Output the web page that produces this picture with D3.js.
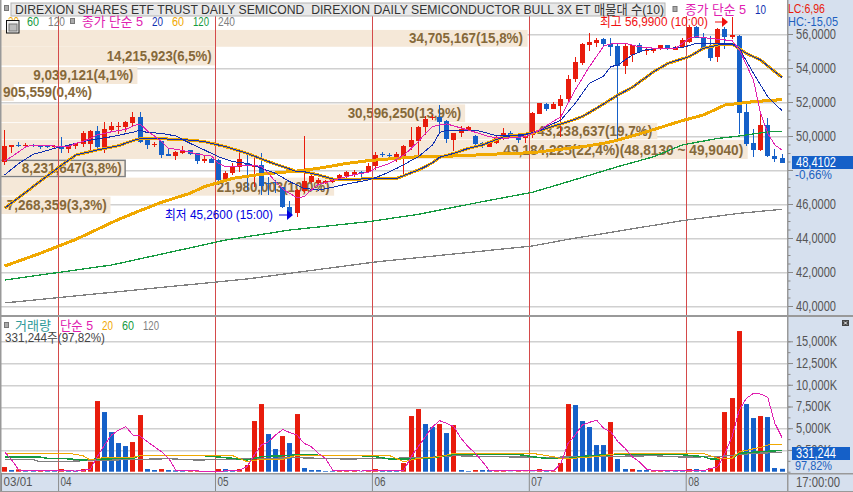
<!DOCTYPE html>
<html>
<head>
<meta charset="utf-8">
<title>Semiconductor Bull 3X</title>
<script src="https://cdn.jsdelivr.net/npm/d3@7"></script>
<style>
  html, body { margin: 0; padding: 0; background: #fff; overflow: hidden; }
  svg { display: block; font-family: "Liberation Sans", "Noto Sans CJK KR", sans-serif; }
  .line { fill: none; shape-rendering: crispEdges; }
</style>
</head>
<body>
<script>
// candles
const opens = [48.49,49.35,49.45,49.41,49.47,49.45,49.43,49.35,49.41,49.22,49.41,49.51,49.57,50.29,49.29,50.35,50.53,50.53,50.78,51.12,49.80,49.51,49.69,48.94,48.84,49.02,49.16,48.98,48.53,48.65,48.59,47.41,47.80,48.20,48.39,48.20,48.29,47.25,47.29,46.98,45.84,45.49,46.78,47.31,47.22,47.22,47.31,47.45,47.65,47.80,47.90,47.90,48.25,48.94,48.88,48.78,48.69,49.33,49.73,50.51,51.04,51.14,50.88,49.76,50.16,50.37,50.00,49.57,49.37,49.57,49.86,50.16,50.04,49.86,50.06,51.31,51.88,51.59,51.76,52.16,53.33,54.27,55.37,55.49,55.69,55.41,55.29,54.14,54.76,55.35,55.00,54.96,55.12,55.35,55.10,55.25,55.55,56.43,55.84,55.31,54.63,56.29,55.86,55.88,51.39,49.57,49.18,50.63,48.84,48.69];
const highs = [50.35,49.47,49.63,49.57,49.55,49.49,49.49,49.47,49.96,49.49,49.61,50.31,50.35,50.59,50.80,50.84,50.84,50.88,51.41,51.41,49.84,49.67,49.73,49.27,49.10,49.43,49.20,49.02,48.88,48.69,48.63,47.96,48.39,49.08,49.08,48.73,48.98,47.61,47.41,47.02,46.18,46.86,50.00,47.80,47.51,47.41,47.51,47.75,47.96,48.00,47.94,48.39,49.06,49.06,48.98,49.08,49.45,50.55,50.59,51.18,51.22,51.82,50.92,50.20,50.59,50.57,50.04,49.65,49.65,50.02,50.45,50.27,50.08,50.16,51.39,51.96,51.96,51.98,52.41,53.59,54.63,55.49,56.04,55.75,55.76,55.75,55.49,55.49,55.37,55.45,55.20,55.20,55.37,55.37,55.29,55.75,56.47,56.47,56.08,55.88,56.35,56.43,56.99,55.94,52.02,50.39,51.29,51.04,49.22,48.92];
const lows = [48.29,49.02,49.31,49.27,49.37,49.25,49.31,49.31,49.02,49.02,49.27,49.37,49.02,49.18,48.98,50.25,50.16,50.25,50.59,49.57,49.27,49.37,48.75,48.80,48.59,48.98,48.90,48.39,48.43,48.41,47.31,47.31,47.71,47.90,46.82,47.02,46.49,46.53,46.67,45.76,45.25,45.20,46.67,47.22,47.16,47.18,47.22,47.41,47.57,47.61,47.57,47.84,48.00,48.78,48.73,48.49,47.71,49.18,48.69,50.06,50.94,50.25,49.57,49.14,49.96,50.31,49.27,49.27,49.33,49.53,49.76,49.92,49.61,49.57,49.86,51.29,51.49,51.57,49.92,52.08,53.14,54.18,54.96,55.22,55.29,54.67,49.76,53.65,54.37,54.90,54.80,54.92,55.10,55.08,55.06,55.20,55.45,55.75,55.20,54.41,54.37,55.12,55.69,50.12,49.45,48.73,49.14,48.75,48.45,48.38];
const closes = [49.41,49.45,49.41,49.45,49.43,49.33,49.37,49.41,49.22,49.45,49.57,50.16,50.31,49.37,50.39,50.59,50.59,50.84,51.12,49.67,49.47,49.55,48.88,48.82,49.06,49.18,48.94,48.53,48.63,48.43,47.41,47.80,48.24,48.65,48.20,48.29,47.06,47.18,47.24,45.78,45.45,46.82,47.35,47.65,47.41,47.35,47.41,47.71,47.90,47.90,47.86,48.25,48.88,48.88,48.82,48.94,49.41,49.76,50.55,51.00,51.12,50.82,49.80,50.16,50.41,50.53,49.53,49.37,49.61,49.92,50.16,49.96,49.73,49.98,51.33,51.94,51.61,51.86,52.18,53.35,54.35,55.41,55.53,55.67,55.37,55.25,54.14,55.29,55.33,54.96,55.06,55.16,55.33,55.12,55.25,55.65,56.43,55.78,55.22,54.63,56.27,55.84,55.96,51.37,49.53,49.18,50.63,48.78,48.67,48.41];

// volume, thousands of shares; 1 = red bar
const volumes = [537,192,268,77,77,153,77,77,307,153,115,307,1150,8128,6863,4562,3297,2952,3412,6518,307,192,307,192,153,77,77,77,77,38,307,307,192,307,767,5828,7783,4332,2607,4102,3297,6633,422,192,192,77,77,115,192,192,38,153,307,153,153,115,997,6403,7208,5483,5138,5483,4447,5368,192,77,192,192,192,77,77,38,77,38,38,307,77,77,997,7783,7668,5828,5138,3067,3067,5713,1457,307,307,192,192,77,77,77,77,77,307,307,192,422,1802,6863,8473,16180,7783,6173,6403,6288,422,331];
const volumeUp = [1,0,1,0,0,1,0,0,1,0,0,1,1,1,0,0,0,0,1,1,0,0,1,0,0,0,1,1,0,0,1,0,0,1,1,1,1,0,0,1,0,1,0,0,0,0,0,1,1,1,0,1,1,0,0,0,1,1,1,0,0,1,0,1,0,0,1,0,0,1,1,0,1,1,0,1,0,1,1,1,0,0,0,0,0,1,0,0,1,0,0,1,1,0,0,0,1,0,0,1,1,1,1,1,0,0,1,0,0,0];

// price moving averages: candle index + value
const ma5Idx = [0,1,3,4,9,10,11,12,13,15,17,18,19,20,21,22,23,24,26,27,29,30,31,33,35,36,37,38,39,41,42,43,44,45,47,49,51,52,54,56,57,58,59,60,61,62,65,68,70,73,75,78,80,82,84,85,87,89,92,94,96,97,100,102,103,105,106,107,108,109];
const ma5Val = [48.53,48.78,49.37,49.47,49.37,49.57,49.67,49.86,50.06,50.25,50.39,50.59,50.71,50.31,50.00,49.67,49.27,49.22,49.06,48.92,48.82,48.39,48.20,48.24,48.27,48.20,47.80,47.31,46.88,46.37,46.43,46.82,47.16,47.25,47.51,47.73,47.86,48.10,48.39,48.88,49.27,49.67,50.16,50.55,50.65,50.71,50.35,49.96,49.86,49.96,50.35,51.14,52.71,54.08,55.29,55.41,55.45,55.25,55.12,55.12,55.75,55.84,55.69,55.61,55.10,53.29,51.33,50.16,49.47,49.18];
const ma10Idx = [0,2,4,7,9,11,12,15,18,19,20,22,24,26,28,30,32,34,36,38,40,42,44,46,48,51,53,55,58,60,61,62,66,69,73,75,78,80,82,84,85,86,87,88,90,93,95,97,98,102,103,105,107,109];
const ma10Val = [47.71,48.39,48.92,49.27,49.47,49.67,49.76,49.96,50.22,50.35,50.20,50.16,50.00,49.57,49.18,48.78,48.49,48.39,48.10,47.80,47.31,46.92,46.82,46.98,47.18,47.41,47.71,48.10,48.78,49.47,50.20,50.35,50.35,50.02,50.06,50.35,50.94,51.92,53.10,53.53,54.08,54.18,54.47,54.76,55.10,55.16,55.20,55.45,55.45,55.45,55.16,53.69,52.31,51.49];
const ma20Idx = [0,4,8,10,13,16,18,19,21,26,28,31,34,37,39,41,42,44,46,50,55,58,59,60,61,63,65,67,70,74,76,79,81,83,86,88,91,93,96,98,100,102,104,106,108,109];
const ma20Val = [45.75,47.02,48.29,48.88,49.18,49.43,49.73,49.84,49.86,49.76,49.67,49.37,48.98,48.49,48.20,47.90,47.90,47.71,47.47,47.47,47.51,48.00,48.20,48.43,48.75,48.98,49.27,49.47,49.96,50.16,50.45,50.84,51.14,51.63,52.41,52.86,53.78,54.27,54.67,55.16,55.35,55.41,54.86,54.47,53.78,53.45];
const ma60Idx = [0,5,10,13,16,19,22,26,28,32,36,41,44,48,51,55,58,60,64,69,74,81,84,86,90,95,98,101,103,105,109];
const ma60Val = [42.35,43.10,43.92,44.51,45.10,45.61,46.10,46.63,47.02,47.51,47.75,47.94,48.10,48.39,48.55,48.69,48.78,48.78,48.84,48.94,49.02,49.37,49.57,49.76,50.25,50.90,51.24,51.82,51.92,52.02,52.14];
const ma120Idx = [0,15,31,40,51,58,67,74,79,86,91,95,100,103,107,109];
const ma120Val = [41.53,42.41,43.88,44.47,44.96,45.39,46.14,46.69,47.31,48.20,48.78,49.47,49.86,50.00,50.24,50.27];
const ma240Idx = [0,34,52,74,79,95,103,109];
const ma240Val = [40.18,41.59,42.59,43.53,43.92,45.02,45.45,45.69];

// volume moving averages
const vma5Idx = [0,1,2,3,10,12,13,14,15,16,17,18,19,20,21,22,23,24,25,30,33,34,35,36,37,38,39,40,41,42,43,44,45,46,50,56,57,58,59,60,61,62,63,64,65,66,67,68,77,78,79,80,81,82,83,84,85,86,87,88,89,90,91,98,100,101,102,103,104,105,106,107,108,109];
const vma5Val = [2300,1342,192,115,77,268,1725,3067,4217,4792,5176,4217,4102,3451,2876,2300,1534,192,115,38,192,575,1917,3067,3451,4217,4869,4486,4217,3259,2876,2109,1534,192,77,192,1725,2876,4026,5176,5866,5559,5176,3834,2876,2109,1150,115,115,959,3259,4217,5368,5674,5943,4984,4601,3451,2684,1725,1150,307,115,115,575,2109,4026,7093,8435,9010,8933,8550,5559,3949];
const vma20Idx = [0,9,11,12,14,18,19,32,34,36,39,41,50,54,56,58,61,63,74,77,78,83,85,95,98,100,102,103,106,107,109];
const vma20Val = [2109,2109,1840,1342,1649,1649,1840,1840,1150,1419,1419,1917,1917,1840,1150,1534,1725,2109,2109,1725,1457,1725,2032,2109,2109,1534,1534,2300,2799,3067,3182];
const vma60Idx = [0,5,6,8,11,13,18,19,28,32,34,36,41,50,52,54,56,59,61,63,72,74,76,79,82,85,95,98,99,102,103,106,109];
const vma60Val = [1687,1687,1534,1534,1342,1457,1534,1840,1840,1534,1342,1725,1917,1840,1725,1457,1457,1534,1725,1994,1994,1725,1534,1534,1840,1955,1955,1725,1457,1534,2109,2300,2454];
const vma120Idx = [0,4,5,8,11,23,27,41,48,59,63,69,76,82,91,95,100,105,109];
const vma120Val = [1380,1380,1150,1150,1265,1495,1342,1610,1457,1610,1840,1725,1649,1725,1840,1687,1725,2109,2224];

// volume profile bands (price bounds)
const bandVolume = [34705167,14215923,9039121,905559,30596250,43238637,49184225,8231647,21980003,7268359];
const bandTop = [56.24,55.24,54.06,53.06,51.86,50.76,49.76,48.57,47.55,46.43];
const bandBottom = [55.25,54.15,53.06,52.06,50.81,49.81,48.65,47.61,46.49,45.41];
const bandText = ['34,705,167(15,8%)','14,215,923(6,5%)','9,039,121(4,1%)','905,559(0,4%)','30,596,250(13,9%)','43,238,637(19,7%)','49,184,225(22,4%)(48,8130 ~ 49,9040)','8,231,647(3,8%)','21,980,003(10,0%)','7,268,359(3,3%)'];
const bandTextX = [409,106.7,33.3,3,347.7,537.3,503.3,21.7,216.7,6.7];
const bandTextW = [114,105,100,89,113.6,115,240,100,113,100];

const priceTicks = [40,42,44,46,48,50,52,54,56];
const volumeTicks = [2500,5000,7500,10000,12500,15000];
const monthStart = [0,8,30,52,74,96];
const monthLabels = ['03/01','04','05','06','07','08'];

const W = 853, H = 492, axisX = 787, paneY = 316, stripY = 473;
const RED = '#e81c0c', BLUE = '#1560c8', MAG = '#e020b0', NAVY = '#1030b0', ORANGE = '#f0a800', GREEN = '#159a40', GRAY = '#808080', BROWN = '#86693a', PANEL = '#d6e0ee';

const svg = d3.select('body').append('svg').attr('width', W).attr('height', H);

const x = d3.scaleLinear().domain([0, 109]).range([4.6, 782]);
const y = d3.scaleLinear().domain([40, 56]).range([306, 34]);
const yv = d3.scaleLinear().domain([0, 15000]).range([471.7, 341.3]);
const bandW = d3.scaleLinear().domain([0, 49184225]).range([0, 747.7]);

const comma = f => d => d3.format(f)(d).replace('.', ',');

function label(text, tx, ty, fill, width, opts = {}) {
  const t = svg.append('text').attr('x', tx).attr('y', ty).attr('fill', fill)
    .attr('font-size', opts.size || 13).text(text);
  if (width) t.attr('textLength', width).attr('lengthAdjust', 'spacingAndGlyphs');
  if (opts.bold) t.attr('font-weight', 'bold');
  return t;
}

// panels
svg.append('rect').attr('x', axisX).attr('width', W - axisX).attr('height', H).attr('fill', PANEL);
svg.append('rect').attr('y', stripY).attr('width', W).attr('height', H - stripY).attr('fill', PANEL);

// grid
svg.selectAll('.gp').data(priceTicks).enter().append('rect')
  .attr('x', 0).attr('width', axisX).attr('y', d => Math.round(y(d))).attr('height', 1.5).attr('fill', '#d0d0d0');
svg.selectAll('.gv').data(volumeTicks).enter().append('rect')
  .attr('x', 0).attr('width', axisX).attr('y', d => Math.round(yv(d))).attr('height', 1.5).attr('fill', '#d0d0d0');

// volume profile
const bands = d3.range(bandVolume.length);
svg.selectAll('.band').data(bands).enter().append('rect')
  .attr('x', 0).attr('width', i => bandW(bandVolume[i]))
  .attr('y', i => y(bandTop[i])).attr('height', i => y(bandBottom[i]) - y(bandTop[i]))
  .attr('fill', '#f5e8d8')
  .attr('stroke', i => i === 7 ? '#808080' : 'none').attr('stroke-width', 1.5);
bands.forEach(i => {
  const mid = (y(bandTop[i]) + y(bandBottom[i])) / 2;
  label(bandText[i], bandTextX[i], mid + 5, BROWN, bandTextW[i], { bold: true, size: 14 });
});

// month lines
monthStart.slice(1).forEach(m => {
  svg.append('rect').attr('x', Math.round(x(m - 0.5))).attr('y', 16).attr('width', 1)
    .attr('height', stripY - 16).attr('fill', '#d44a4a');
});

// candles
const idx = d3.range(opens.length);
const left = i => Math.round(x(i) - 2.5);
const candleColor = i => closes[i] >= opens[i] ? RED : BLUE;
svg.selectAll('.wick').data(idx).enter().append('rect')
  .attr('x', i => left(i) + 2).attr('width', 1)
  .attr('y', i => Math.round(y(highs[i]))).attr('height', i => Math.max(1, Math.round(y(lows[i]) - y(highs[i]))))
  .attr('fill', candleColor);
svg.selectAll('.body').data(idx).enter().append('rect')
  .attr('x', left).attr('width', 5)
  .attr('y', i => Math.round(y(Math.max(opens[i], closes[i]))))
  .attr('height', i => Math.max(1, Math.round(Math.abs(y(opens[i]) - y(closes[i])))))
  .attr('fill', candleColor);

// volume bars
svg.selectAll('.vol').data(idx).enter().append('rect')
  .attr('x', left).attr('width', 5)
  .attr('y', i => yv(volumes[i])).attr('height', i => yv(0) - yv(volumes[i]))
  .attr('fill', i => volumeUp[i] ? RED : BLUE);

// moving averages
function drawLine(ids, vals, scale, color, w) {
  const line = d3.line().x(d => x(d[0])).y(d => scale(d[1]));
  svg.append('path').datum(d3.zip(ids, vals)).attr('class', 'line')
    .attr('d', line).attr('stroke', color).attr('stroke-width', w);
}
drawLine(ma240Idx, ma240Val, y, GRAY, 1.3);
drawLine(ma120Idx, ma120Val, y, GREEN, 1.3);
drawLine(ma60Idx, ma60Val, y, ORANGE, 3);
drawLine(ma20Idx, ma20Val, y, ORANGE, 3);
drawLine(ma20Idx, ma20Val, y, NAVY, 1);
drawLine(ma10Idx, ma10Val, y, NAVY, 1);
drawLine(ma5Idx, ma5Val, y, MAG, 1);
drawLine(vma120Idx, vma120Val, yv, GRAY, 1.3);
drawLine(vma60Idx, vma60Val, yv, GREEN, 1.5);
drawLine(vma20Idx, vma20Val, yv, ORANGE, 1);
drawLine(vma5Idx, vma5Val, yv, MAG, 1);

// frame
svg.append('rect').attr('width', 1.5).attr('height', H).attr('fill', '#999');
svg.append('rect').attr('y', paneY - 1).attr('width', W).attr('height', 2).attr('fill', '#999');
svg.append('rect').attr('y', stripY).attr('width', W).attr('height', 1.5).attr('fill', '#999');
svg.append('rect').attr('y', 491).attr('width', W).attr('height', 1).attr('fill', '#999');
svg.append('rect').attr('x', axisX).attr('width', 1.5).attr('height', H).attr('fill', '#999');

// axes
function styleAxis(g, textW) {
  g.select('.domain').remove();
  g.selectAll('line').attr('stroke', '#8a8a8a');
  g.selectAll('text').attr('fill', '#555').attr('font-size', 14)
    .attr('font-family', '"Liberation Sans", sans-serif')
    .attr('textLength', textW).attr('lengthAdjust', 'spacingAndGlyphs');
}
const minorP = svg.append('g').attr('transform', `translate(${axisX + 1},0)`)
  .call(d3.axisRight(y).tickValues(d3.range(40, 56.5, 0.5)).tickSize(2.5).tickFormat(''));
minorP.select('.domain').remove(); minorP.selectAll('line').attr('stroke', '#8a8a8a');
// the 48 label sits under the last-price box in the reference, so only its tick shows
svg.append('g').attr('transform', `translate(${axisX + 1},0)`)
  .call(d3.axisRight(y).tickValues(priceTicks).tickSize(5).tickPadding(3).tickFormat(d => d === 48 ? '' : comma('.4f')(d)))
  .call(g => styleAxis(g, 40))
  .call(g => g.selectAll('text').filter(d => d === 48).remove());
const minorV = svg.append('g').attr('transform', `translate(${axisX + 1},0)`)
  .call(d3.axisRight(yv).tickValues(d3.range(0, 16250, 1250)).tickSize(2.5).tickFormat(''));
minorV.select('.domain').remove(); minorV.selectAll('line').attr('stroke', '#8a8a8a');
svg.append('g').attr('transform', `translate(${axisX + 1},0)`)
  .call(d3.axisRight(yv).tickValues(volumeTicks).tickSize(5).tickPadding(3).tickFormat(d => d3.format(',')(d) + 'K'))
  .call(g => styleAxis(g, null))
  .call(g => g.selectAll('text').attr('textLength', d => d >= 10000 ? 41 : 35));
const xa = svg.append('g').attr('transform', `translate(0,${stripY})`)
  .call(d3.axisBottom(x).tickValues(monthStart.map(m => m - 0.5)).tickSize(18).tickPadding(0)
    .tickFormat((d, i) => monthLabels[i]));
xa.select('.domain').remove();
xa.selectAll('line').attr('stroke', '#8a8a8a');
xa.selectAll('text').attr('fill', '#555').attr('font-size', 13).attr('text-anchor', 'start')
  .attr('x', 2).attr('y', 4).attr('dy', '0.71em')
  .attr('textLength', (d, i) => i ? 11 : 29).attr('lengthAdjust', 'spacingAndGlyphs');
label('17:00:00', 796, 487, '#555', 44, { size: 14 });

// header
label('20', 8, 26, ORANGE, 11);
svg.append('rect').attr('x', 11).attr('y', 3).attr('width', 654).attr('height', 13)
  .attr('fill', '#e8e8e8').attr('stroke', '#b4b4b4');
svg.append('rect').attr('x', 4.5).attr('y', 5.5).attr('width', 4).attr('height', 5).attr('fill', '#aaa').attr('stroke', '#777');
label('DIREXION SHARES ETF TRUST DAILY SEMICOND  DIREXION DAILY SEMICONDUCTOR BULL 3X ET 매물대 수(10)', 15, 14, '#333', 649, { size: 13 })
  .attr('xml:space', 'preserve');
svg.append('rect').attr('x', 673).attr('y', 6.5).attr('width', 4).attr('height', 5).attr('fill', '#aaa').attr('stroke', '#777');
label('종가 단순 5', 685, 14, MAG, 61);
label('10', 755, 14, NAVY, 11);
label('LC:6,96', 788, 13, '#e81c0c', 37);
label('HC:-15,05', 788, 26, '#2060c0', 50);
label('60', 27, 26, GREEN, 12);
label('120', 48, 26, GRAY, 17);
svg.append('rect').attr('x', 70.5).attr('y', 18.5).attr('width', 4).attr('height', 5).attr('fill', '#aaa').attr('stroke', '#777');
label('종가 단순 5', 82, 26, MAG, 61);
label('20', 152, 26, NAVY, 11);
label('60', 172, 26, ORANGE, 12);
label('120', 193, 26, GREEN, 16);
label('240', 218, 26, GRAY, 17);

// calendar button
svg.append('rect').attr('x', 6.5).attr('y', 20.5).attr('width', 12.5).attr('height', 12.5).attr('fill', '#f0f0f0').attr('stroke', '#111');
svg.append('rect').attr('x', 9).attr('y', 24).attr('width', 8).attr('height', 7).attr('fill', '#bbb').attr('stroke', '#777');

// high / low notes
label('최고 56,9900 (10:00)', 600, 26, '#f01010', 108);
svg.append('rect').attr('x', 715).attr('y', 21.5).attr('width', 8).attr('height', 1).attr('fill', '#f01010');
svg.append('path').attr('d', 'M722,17L728,22L722,27Z').attr('fill', '#f01010');
label('최저 45,2600 (15:00)', 165, 219, '#0000e0', 108);
svg.append('rect').attr('x', 279).attr('y', 214.5).attr('width', 9).attr('height', 1).attr('fill', '#0000e0');
svg.append('path').attr('d', 'M287,210L293,215L287,220Z').attr('fill', '#0000e0');

// last values
svg.append('rect').attr('x', 792).attr('y', 156).attr('width', 61).attr('height', 13).attr('fill', BLUE);
label('48,4102', 796, 167, '#fff', 40, { size: 14 });
label('-0,66%', 795, 179, '#2060c0', 37);
svg.append('rect').attr('x', 792).attr('y', 447).attr('width', 58).attr('height', 13).attr('fill', BLUE);
label('331,244', 796, 458, '#fff', 40, { size: 14 });
label('97,82%', 795, 470, '#2060c0', 37);

// volume legend
svg.append('rect').attr('x', 4.5).attr('y', 322.5).attr('width', 4).attr('height', 5).attr('fill', '#aaa').attr('stroke', '#777');
label('거래량', 15, 330, '#2f9a9a', 36);
label('단순 5', 60, 330, MAG, 33);
label('20', 102, 330, ORANGE, 11);
label('60', 122, 330, GREEN, 12);
label('120', 143, 330, GRAY, 16);
label('331,244주(97,82%)', 5, 342, '#444', 100);
svg.append('rect').attr('x', 842).attr('y', 320).attr('width', 7).attr('height', 6).attr('fill', '#444');
svg.append('path').attr('d', 'M844,321.5L847,324.5M847,321.5L844,324.5').attr('stroke', '#fff').attr('fill', 'none');
</script>
</body>
</html>
